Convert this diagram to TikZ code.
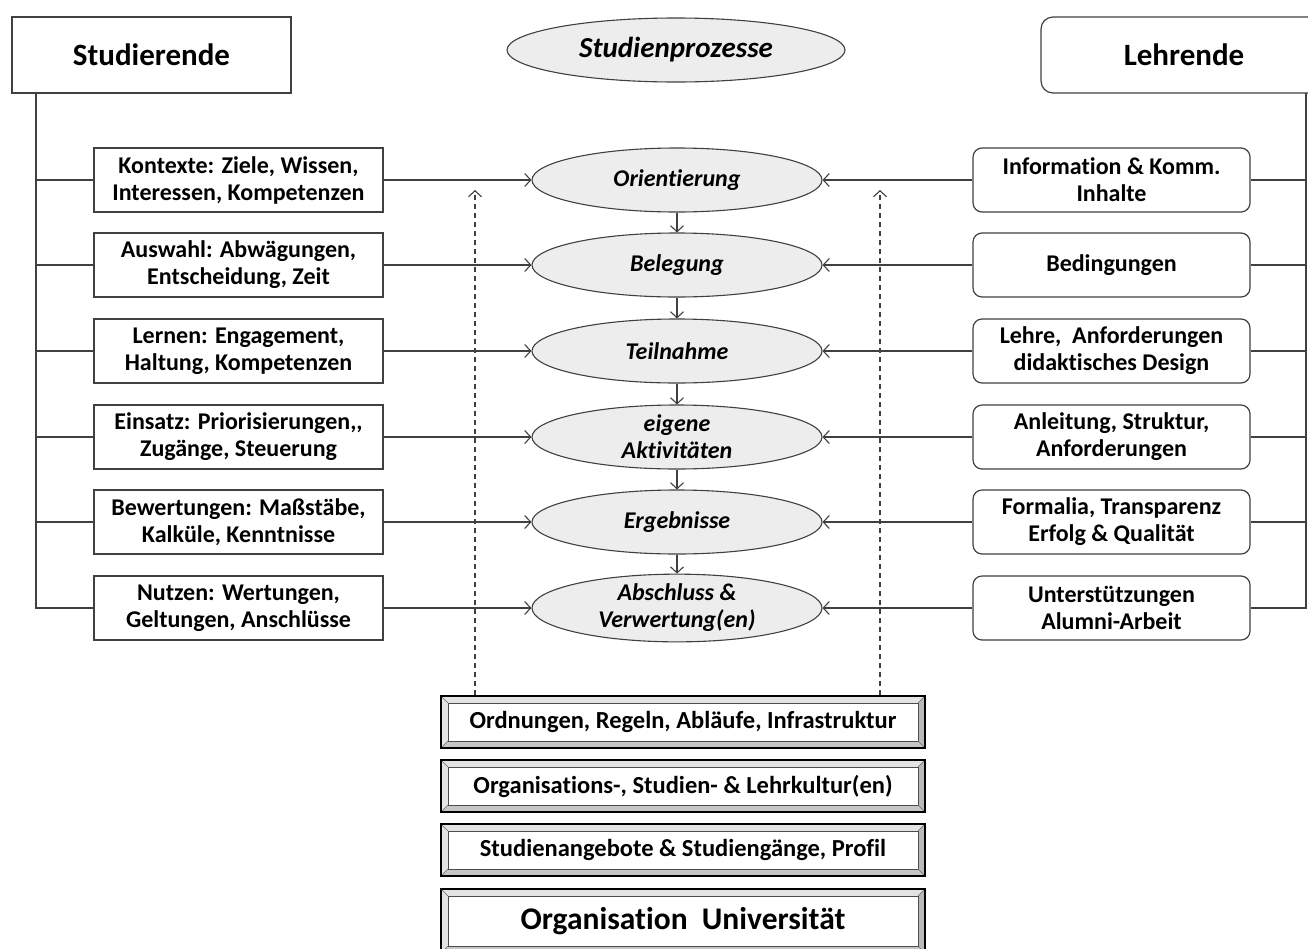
\documentclass[tikz,border=0pt]{standalone}
\usepackage{fontspec}
\setmainfont{Carlito}[Ligatures={NoCommon}]
\usetikzlibrary{shapes.geometric,arrows.meta}
\definecolor{ln}{gray}{0.25}
\definecolor{efill}{gray}{0.93}
\tikzset{
  txt/.style={font=\fontsize{24}{27}\selectfont\bfseries, align=center, text=black},
  lbox/.style={txt, draw=ln, line width=1.2pt, rectangle, minimum width=289pt, minimum height=64pt, inner sep=0pt},
  rbox/.style={lbox, rounded corners=9pt, minimum width=277pt},
  proc/.style={txt, font=\fontsize{24}{27}\selectfont\bfseries\itshape, ellipse, draw=ln, line width=1.1pt, fill=efill, minimum width=290pt, minimum height=64pt, inner sep=0pt},
  head/.style={txt, font=\fontsize{31}{34}\selectfont\bfseries, draw=ln, line width=1.2pt, minimum height=76pt, inner sep=0pt},
  conn/.style={draw=ln, line width=1.1pt},
  arr/.style={conn, -{Straight Barb[length=6pt,width=13pt]}},
  darr/.style={arr, dashed, dash pattern=on 5pt off 4pt},
  layer/.style={txt, font=\fontsize{24.5}{27}\selectfont\bfseries, draw=black, line width=1.2pt, minimum width=484pt, inner sep=0pt,
    path picture={
      \fill[gray!22] (path picture bounding box.north west) -- (path picture bounding box.north east)
        -- ([shift={(-7pt,-7pt)}]path picture bounding box.north east) -- ([shift={(7pt,-7pt)}]path picture bounding box.north west) -- cycle;
      \fill[gray!22] (path picture bounding box.north west) -- (path picture bounding box.south west)
        -- ([shift={(7pt,7pt)}]path picture bounding box.south west) -- ([shift={(7pt,-7pt)}]path picture bounding box.north west) -- cycle;
      \fill[gray!55] (path picture bounding box.north east) -- (path picture bounding box.south east)
        -- ([shift={(-7pt,7pt)}]path picture bounding box.south east) -- ([shift={(-7pt,-7pt)}]path picture bounding box.north east) -- cycle;
      \fill[gray!45] (path picture bounding box.south west) -- (path picture bounding box.south east)
        -- ([shift={(-7pt,7pt)}]path picture bounding box.south east) -- ([shift={(7pt,7pt)}]path picture bounding box.south west) -- cycle;
      \draw[line width=0.6pt, black!70] ([shift={(7pt,-7pt)}]path picture bounding box.north west) rectangle ([shift={(-7pt,7pt)}]path picture bounding box.south east);
      \draw[line width=0.4pt, black!60] (path picture bounding box.north west) -- ([shift={(7pt,-7pt)}]path picture bounding box.north west)
        (path picture bounding box.north east) -- ([shift={(-7pt,-7pt)}]path picture bounding box.north east)
        (path picture bounding box.south west) -- ([shift={(7pt,7pt)}]path picture bounding box.south west)
        (path picture bounding box.south east) -- ([shift={(-7pt,7pt)}]path picture bounding box.south east);
    }},
}
\begin{document}
\begin{tikzpicture}[x=1pt,y=-1pt]
\useasboundingbox[fill=white] (0,0) rectangle (1308,948);

% headers
\node[head, minimum width=279pt] (stud) at (151.5,55) {Studierende};
\node[head, rounded corners=12pt, minimum width=286pt] (lehr) at (1184,55) {Lehrende};
\node[proc, font=\fontsize{29}{32}\selectfont\bfseries\itshape, minimum width=338pt, minimum height=64pt] (sp) at (676,50) {Studienprozesse};

% process ellipses
\node[proc] (p1) at (677,180) {Orientierung};
\node[proc] (p2) at (677,265) {Belegung};
\node[proc] (p3) at (677,351) {Teilnahme};
\node[proc] (p4) at (677,437) {eigene\\Aktivitäten};
\node[proc] (p5) at (677,522) {Ergebnisse};
\node[proc] (p6) at (677,608) {Abschluss \&\\Verwertung(en)};

% left boxes
\node[lbox] (l1) at (238.5,180) {Kontexte: Ziele, Wissen,\\Interessen, Kompetenzen};
\node[lbox] (l2) at (238.5,265) {Auswahl: Abwägungen,\\Entscheidung, Zeit};
\node[lbox] (l3) at (238.5,351) {Lernen: Engagement,\\Haltung, Kompetenzen};
\node[lbox] (l4) at (238.5,437) {Einsatz: Priorisierungen,{},\\Zugänge, Steuerung};
\node[lbox] (l5) at (238.5,522) {Bewertungen: Maßstäbe,\\Kalküle, Kenntnisse};
\node[lbox] (l6) at (238.5,608) {Nutzen: Wertungen,\\Geltungen, Anschlüsse};

% right boxes
\node[rbox] (r1) at (1111.5,180) {Information \& Komm.\\Inhalte};
\node[rbox] (r2) at (1111.5,265) {Bedingungen};
\node[rbox] (r3) at (1111.5,351) {Lehre,\ \ Anforderungen\\didaktisches Design};
\node[rbox] (r4) at (1111.5,437) {Anleitung, Struktur,\\Anforderungen};
\node[rbox] (r5) at (1111.5,522) {Formalia, Transparenz\\Erfolg \& Qualität};
\node[rbox] (r6) at (1111.5,608) {Unterstützungen\\Alumni-Arbeit};

% bottom layers
\node[layer, minimum height=52pt] (b1) at (683,722) {Ordnungen, Regeln, Abläufe, Infrastruktur};
\node[layer, minimum height=52pt] (b2) at (683,786) {Organisations-, Studien- \& Lehrkultur(en)};
\node[layer, minimum height=52pt] (b3) at (683,850) {Studienangebote \& Studiengänge, Profil};
\node[layer, minimum height=64pt, font=\fontsize{31.5}{34}\selectfont\bfseries] (b4) at (683,921) {Organisation\ \ Universität};

% trunks
\coordinate (lt) at (36,93);
\coordinate (rt) at (1306,93);
\draw[conn] (lt) |- (l6.west);
\draw[conn] (rt) |- (r6.east);
\foreach \i in {1,...,5}{
  \draw[conn] (l\i.west) -- (l\i.west -| lt);
  \draw[conn] (r\i.east) -- (r\i.east -| rt);
}
\foreach \i in {1,...,6}{
  \draw[arr] (l\i) -- (p\i);
  \draw[arr] (r\i) -- (p\i);
}
\draw[arr] (p1) -- (p2);
\draw[arr] (p2) -- (p3);
\draw[arr] (p3) -- (p4);
\draw[arr] (p4) -- (p5);
\draw[arr] (p5) -- (p6);

% dashed arrows
\coordinate (dl) at (475,190);
\coordinate (dr) at (880,190);
\draw[darr] (b1.north -| dl) -- (dl);
\draw[darr] (b1.north -| dr) -- (dr);
\end{tikzpicture}
\end{document}
